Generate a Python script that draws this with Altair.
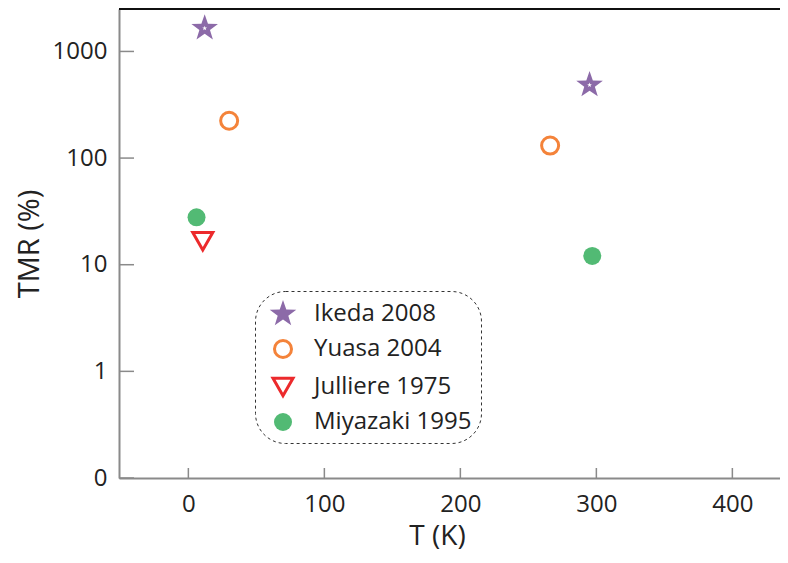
import altair as alt
import pandas as pd

# ---- data ----
series = ["Ikeda 2008", "Ikeda 2008", "Yuasa 2004", "Yuasa 2004",
          "Julliere 1975", "Miyazaki 1995", "Miyazaki 1995"]
temps = [12, 295, 30, 266, 10.6, 6, 297]
tmr = [1650, 484, 224, 131, 16.6, 27.8, 12.1]

STAR = ("M0,-1L0.235,-0.324L0.951,-0.309L0.380,0.124L0.588,0.809L0,0.4"
        "L-0.588,0.809L-0.380,0.124L-0.951,-0.309L-0.235,-0.324Z")

legend_order = ["Ikeda 2008", "Yuasa 2004", "Julliere 1975", "Miyazaki 1995"]
shapes = [STAR, "circle", "triangle-down", "circle"]
stroke_colors = ["#8c6aa8", "#f4833a", "#ec2a2c", "#52ba74"]
fill_colors = ["#8c6aa8", "transparent", "transparent", "#52ba74"]
sizes = [780, 290, 400, 324]
stroke_widths = [0, 3, 3, 0]

y_ticks = [0.1, 1, 10, 100, 1000]
x_ticks = [0, 100, 200, 300, 400]

W, H = 680, 469
FONT = "Open Sans"
GREY = "#8a8a8a"

df = pd.DataFrame({"series": series, "T": temps, "TMR": tmr})
ydf = pd.DataFrame({"v": y_ticks})
xdf = pd.DataFrame({"v": x_ticks})

xscale = alt.Scale(domain=[-51, 449], nice=False, zero=False)
yscale = alt.Scale(type="log", domain=[0.1, 2500], nice=False)

points = alt.Chart(df).mark_point(filled=False, opacity=1).encode(
    x=alt.X("T:Q", scale=xscale,
            axis=alt.Axis(values=x_ticks, title="T (K)", ticks=False, grid=False,
                          domainColor=GREY, domainWidth=2, labelPadding=14,
                          labelFontSize=24, titleFontSize=28,
                          titleX=318, titleY=66, titleBaseline="alphabetic",
                          labelColor="#222", titleColor="#222", format="d",
                          titleFontWeight="normal")),
    y=alt.Y("TMR:Q", scale=yscale,
            axis=alt.Axis(values=y_ticks, title="TMR (%)", ticks=False, grid=False,
                          domainColor=GREY, domainWidth=2, labelPadding=12,
                          labelFontSize=24, titleFontSize=29, titlePadding=8,
                          labelColor="#222", titleColor="#222", format="d",
                          titleFontWeight="normal")),
    color=alt.Color("series:N", scale=alt.Scale(domain=legend_order, range=stroke_colors),
                    legend=alt.Legend(title=None, orient="none", legendX=136, legendY=282)),
    fill=alt.Fill("series:N", scale=alt.Scale(domain=legend_order, range=fill_colors)),
    shape=alt.Shape("series:N", scale=alt.Scale(domain=legend_order, range=shapes)),
    size=alt.Size("series:N",
                  scale=alt.Scale(type="ordinal", domain=legend_order, range=sizes)),
    strokeWidth=alt.StrokeWidth("series:N",
                                scale=alt.Scale(type="ordinal", domain=legend_order,
                                                range=stroke_widths)),
)

star_centers = alt.Chart(df).transform_filter(
    alt.datum.series == "Ikeda 2008"
).mark_point(shape=STAR, filled=True, color="white", size=26, opacity=1).encode(
    x=alt.X("T:Q"),
    y=alt.Y("TMR:Q"),
)

yt = alt.Chart(ydf).mark_rule(color=GREY, strokeWidth=1.5).encode(
    y=alt.Y("v:Q"), x=alt.value(0), x2=alt.value(15))
xt = alt.Chart(xdf).mark_rule(color=GREY, strokeWidth=1.5).encode(
    x=alt.X("v:Q"), y=alt.value(H - 10), y2=alt.value(H))
top = alt.Chart(xdf).mark_rule(color="#111", strokeWidth=1.5).encode(
    x=alt.value(0), x2=alt.value(W), y=alt.value(0))

chart = alt.layer(points, star_centers, top, yt, xt).properties(
    width=W, height=H,
    autosize=alt.AutoSizeParams(type="none"),
    padding={"left": 111, "top": 1, "right": -19, "bottom": 76},
).configure_view(stroke=None).configure_legend(
    labelFontSize=24, labelColor="#222", labelFont=FONT, labelLimit=400,
    strokeColor="#333", strokeDash=[3, 3], cornerRadius=30, padding=9,
    rowPadding=8, labelOffset=17, symbolOffset=5, fillColor="white",
).configure_axis(labelFont=FONT, titleFont=FONT)

chart.save("out.html", embed_options={"renderer": "svg", "actions": False})
